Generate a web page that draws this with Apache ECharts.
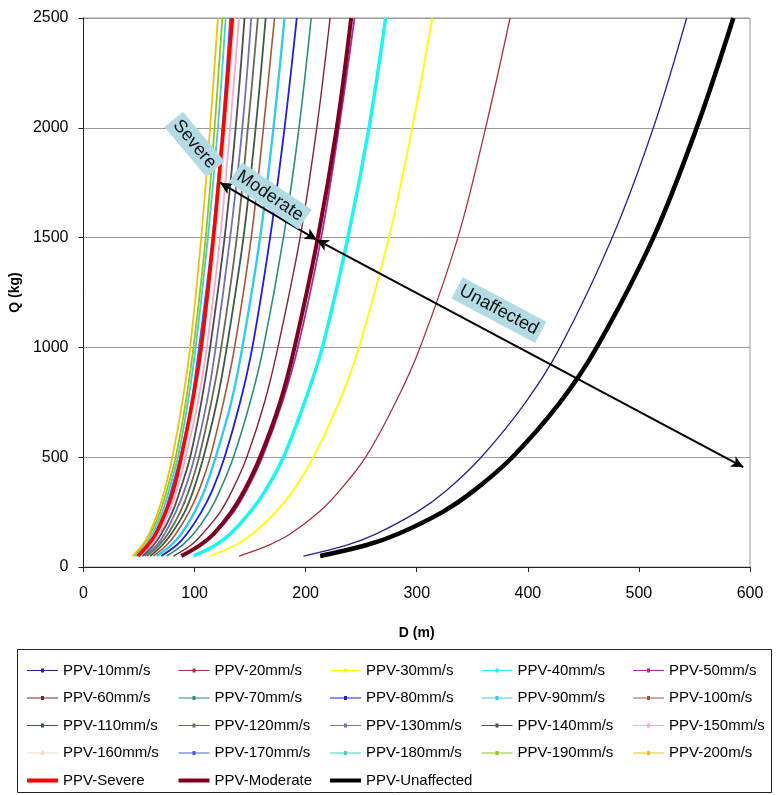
<!DOCTYPE html>
<html>
<head>
<meta charset="utf-8">
<script src="https://cdn.jsdelivr.net/npm/echarts@6/dist/echarts.min.js"></script>
<style>
  html, body { margin: 0; padding: 0; background: #fff; }
  #chart { width: 777px; height: 795px; }
</style>
</head>
<body>
<div id="chart"></div>
<script>
// charge Q (kg) at which each curve's distance D (m) was read
const qLevels = [50, 100, 150, 250, 350, 500, 750, 1000, 1500, 2000, 2500];

// distance D (m) per curve, read at qLevels
const ppv10 = [198, 237, 263, 300, 327, 358, 398, 429, 476, 513, 543];
const ppv20 = [140, 167, 186, 212, 231, 254, 281, 303, 337, 362, 384];
const ppv30 = [114, 137, 152, 173, 189, 207, 230, 248, 275, 296, 314];
const ppv40 = [99, 119, 132, 150, 164, 180, 199, 215, 238, 257, 272];
const ppv50 = [89, 106, 118, 135, 147, 161, 179, 193, 214, 230, 244];
const ppv60 = [81, 97, 107, 123, 134, 147, 163, 175, 195, 210, 222];
const ppv70 = [75, 89, 99, 113, 123, 135, 150, 162, 180, 194, 205];
const ppv80 = [70, 84, 93, 106, 116, 127, 141, 152, 168, 181, 192];
const ppv90 = [66, 79, 88, 100, 109, 119, 133, 143, 159, 171, 181];
const ppv100 = [63, 75, 83, 95, 104, 114, 126, 136, 151, 162, 172];
const ppv110 = [60, 71, 79, 91, 99, 108, 120, 129, 144, 155, 164];
const ppv120 = [57, 68, 76, 87, 95, 104, 115, 124, 138, 148, 157];
const ppv130 = [55, 66, 73, 83, 91, 100, 111, 119, 132, 143, 151];
const ppv140 = [53, 63, 70, 80, 87, 96, 106, 114, 127, 137, 145];
const ppv150 = [51, 61, 68, 77, 84, 92, 103, 111, 123, 132, 140];
const ppv160 = [50, 59, 66, 75, 82, 90, 100, 107, 119, 128, 136];
const ppv170 = [48, 58, 64, 73, 79, 87, 97, 104, 116, 125, 132];
const ppv180 = [47, 56, 62, 71, 77, 85, 94, 101, 112, 121, 128];
const ppv190 = [46, 54, 60, 69, 75, 83, 92, 99, 110, 118, 125];
const ppv200 = [44, 53, 59, 67, 73, 80, 89, 96, 106, 114, 121];
const ppvSevere = [49, 58, 65, 74, 81, 88, 98, 106, 117, 126, 134];
const ppvModerate = [88, 105, 117, 133, 145, 159, 177, 190, 211, 228, 241];
const ppvUnaffected = [213, 255, 283, 323, 352, 386, 429, 462, 513, 552, 585];

const xTicks = [0, 100, 200, 300, 400, 500, 600];
const yTicks = [0, 500, 1000, 1500, 2000, 2500];

// zone arrows [D, Q]
const arrowSevere = [[123, 1750], [210, 1490]];
const arrowUnaffected = [[210, 1490], [594, 455]];
// zone labels [text, D, Q]
const zoneLabels = [['Severe', 100, 1925], ['Moderate', 168, 1690], ['Unaffected', 374, 1170]];

const FONT = "'Liberation Sans', Arial, sans-serif";

const curves = [
  ['PPV-10mm/s', ppv10, '#26268c', 1.3],
  ['PPV-20mm/s', ppv20, '#a3343f', 1.3],
  ['PPV-30mm/s', ppv30, '#ffff00', 1.8],
  ['PPV-40mm/s', ppv40, '#1ff4f4', 3.5],
  ['PPV-50mm/s', ppv50, '#a0309a', 1.8],
  ['PPV-60mm/s', ppv60, '#7a2630', 1.4],
  ['PPV-70mm/s', ppv70, '#2e8c7c', 1.6],
  ['PPV-80mm/s', ppv80, '#1d1ddb', 1.8],
  ['PPV-90mm/s', ppv90, '#33cbea', 2.4],
  ['PPV-100m/s', ppv100, '#a5573c', 1.6],
  ['PPV-110mm/s', ppv110, '#3d5c40', 1.8],
  ['PPV-120mm/s', ppv120, '#6b6a52', 1.8],
  ['PPV-130mm/s', ppv130, '#7272ad', 1.8],
  ['PPV-140mm/s', ppv140, '#4d4d4d', 1.8],
  ['PPV-150mm/s', ppv150, '#f2a9d8', 1.8],
  ['PPV-160mm/s', ppv160, '#f3dcc4', 1.8],
  ['PPV-170mm/s', ppv170, '#4462de', 1.8],
  ['PPV-180mm/s', ppv180, '#3fd0c6', 1.8],
  ['PPV-190mm/s', ppv190, '#96c41a', 1.8],
  ['PPV-200m/s', ppv200, '#e8c21a', 1.8],
  ['PPV-Severe', ppvSevere, '#ff0000', 3.5],
  ['PPV-Moderate', ppvModerate, '#7d0020', 4],
  ['PPV-Unaffected', ppvUnaffected, '#000000', 4.5]
];

const series = curves.map(([name, d, color, width]) => ({
  name,
  type: 'line',
  data: qLevels.map((q, i) => [d[i], q]),
  smooth: 0.35,
  symbol: 'none',
  color,
  lineStyle: { color, width }
}));

series.push({
  name: 'arrows',
  type: 'line',
  data: [],
  markLine: {
    silent: true,
    symbol: ['arrow', 'arrow'],
    symbolSize: [9, 12],
    label: { show: false },
    lineStyle: { color: '#000', width: 2, type: 'solid' },
    emphasis: { disabled: true },
    data: [
      [{ coord: arrowSevere[0] }, { coord: arrowSevere[1] }],
      [{ coord: arrowUnaffected[0] }, { coord: arrowUnaffected[1] }]
    ]
  }
});

// legend icons: thin line with a small tick marker, or a thick bar
const thinIcon = 'path://M0,4.5H31V5.5H0Z M14,3H17V7H14Z';
const thickIcon = 'path://M0,3H31V7H0Z';
const thickNames = ['PPV-Severe', 'PPV-Moderate', 'PPV-Unaffected'];

const columns = [
  ['PPV-10mm/s', 'PPV-60mm/s', 'PPV-110mm/s', 'PPV-160mm/s', 'PPV-Severe'],
  ['PPV-20mm/s', 'PPV-70mm/s', 'PPV-120mm/s', 'PPV-170mm/s', 'PPV-Moderate'],
  ['PPV-30mm/s', 'PPV-80mm/s', 'PPV-130mm/s', 'PPV-180mm/s', 'PPV-Unaffected'],
  ['PPV-40mm/s', 'PPV-90mm/s', 'PPV-140mm/s', 'PPV-190mm/s'],
  ['PPV-50mm/s', 'PPV-100m/s', 'PPV-150mm/s', 'PPV-200m/s']
];

const legend = columns.map((names, i) => ({
  data: names.map((name) => ({ name, icon: thickNames.includes(name) ? thickIcon : thinIcon })),
  orient: 'vertical',
  left: 22 + 151.5 * i,
  top: 657,
  height: 140,
  itemWidth: 31,
  itemHeight: 4,
  itemGap: 10.5,
  selectedMode: false,
  itemStyle: { borderWidth: 0 },
  textStyle: { fontFamily: FONT, fontSize: 15, lineHeight: 17, color: '#000' }
}));

const chart = echarts.init(document.getElementById('chart'));
chart.setOption({
  animation: false,
  backgroundColor: '#fff',
  grid: {
    left: 81,
    right: 27,
    top: 18,
    bottom: 228,
    show: true,
    borderColor: '#9a9a9a',
    borderWidth: 1
  },
  legend,
  xAxis: {
    type: 'value',
    min: xTicks[0],
    max: xTicks[xTicks.length - 1],
    interval: 100,
    name: 'D (m)',
    nameLocation: 'middle',
    nameGap: 59,
    nameTextStyle: { fontFamily: FONT, fontWeight: 'bold', fontSize: 14, color: '#000' },
    axisLine: { show: true, lineStyle: { color: '#222' } },
    axisTick: { show: true, length: 5, lineStyle: { color: '#222' } },
    axisLabel: { margin: 19, fontFamily: FONT, fontSize: 16, color: '#000', formatter: (v) => String(v) },
    splitLine: { show: false }
  },
  yAxis: {
    type: 'value',
    min: yTicks[0],
    max: yTicks[yTicks.length - 1],
    interval: 500,
    name: 'Q (kg)',
    nameLocation: 'middle',
    nameGap: 47,
    nameTextStyle: { fontFamily: FONT, fontWeight: 'bold', fontSize: 14, color: '#000' },
    axisLine: { show: true, lineStyle: { color: '#222' } },
    axisTick: { show: true, length: 5, lineStyle: { color: '#222' } },
    axisLabel: { margin: 15, fontFamily: FONT, fontSize: 16, color: '#000', formatter: (v) => String(v) },
    splitLine: { lineStyle: { color: '#9a9a9a', width: 1 } }
  },
  series
});

const angles = { Severe: -50, Moderate: -34, Unaffected: -28 };
const graphic = zoneLabels.map(([text, d, q]) => {
  const [px, py] = chart.convertToPixel({ gridIndex: 0 }, [d, q]);
  return {
    type: 'text',
    x: px,
    y: py,
    rotation: angles[text] * Math.PI / 180,
    z: 100,
    style: {
      text,
      align: 'center',
      verticalAlign: 'middle',
      fontFamily: FONT,
      fontSize: 18,
      fill: '#111',
      backgroundColor: '#b2dbe4',
      padding: [3, 4]
    }
  };
});
graphic.push({
  type: 'rect',
  shape: { x: 17.5, y: 649.5, width: 754, height: 143 },
  style: { fill: 'none', stroke: '#222', lineWidth: 1 }
});
chart.setOption({ graphic });
</script>
</body>
</html>
